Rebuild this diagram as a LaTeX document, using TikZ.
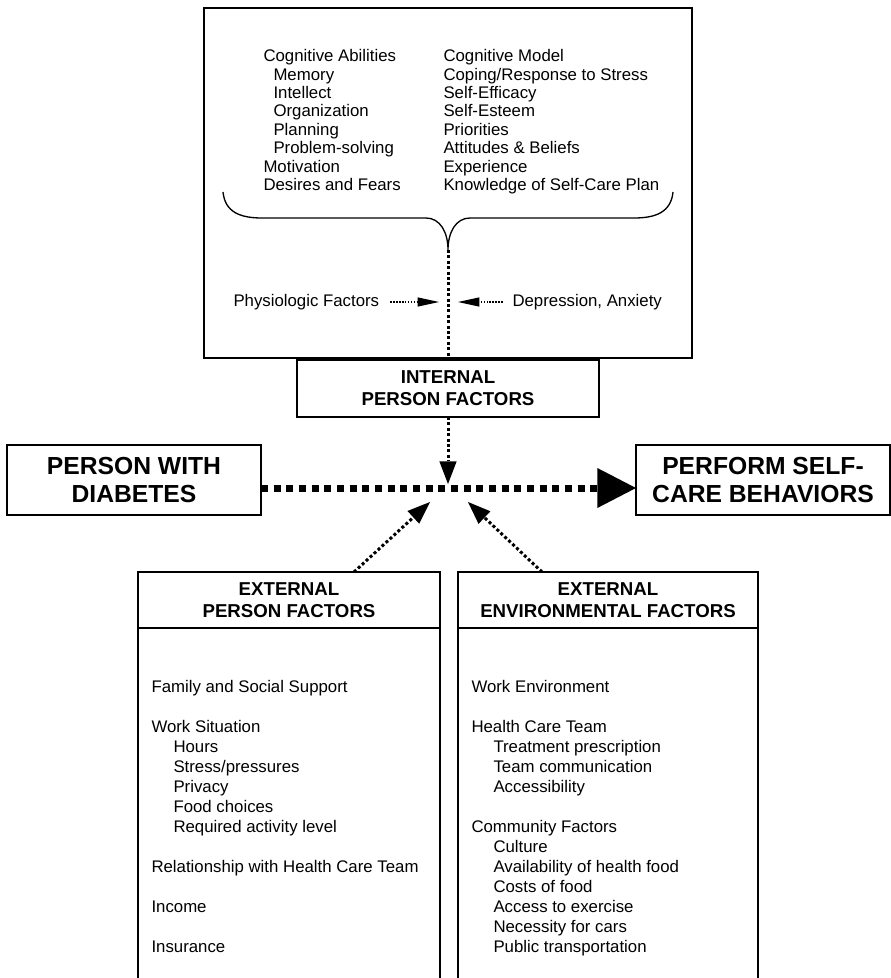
\documentclass[tikz,border=0pt]{standalone}
\usepackage{fontspec}
\setmainfont{Liberation Sans}
\usetikzlibrary{arrows.meta}

\tikzset{every picture/.style={line width=0.75pt}}

\begin{document}
\begin{tikzpicture}[x=0.75pt,y=0.75pt,yscale=-1,xscale=1,
    toplist/.style={anchor=north west, inner sep=0pt, align=left, font=\fontsize{12.6}{13.8}\selectfont},
    lowlist/.style={anchor=north west, inner sep=0pt, align=left, font=\fontsize{12.6}{15}\selectfont},
    sidelabel/.style={inner sep=0pt, font=\fontsize{12.6}{15}\selectfont},
    headbox/.style={draw, line width=1.9pt, outer sep=0pt, inner sep=0pt, align=center, font=\bfseries\fontsize{14}{16.5}\selectfont},
    bigbox/.style={draw, line width=1.9pt, outer sep=0pt, inner sep=0pt, align=center, font=\bfseries\fontsize{18.5}{21}\selectfont, minimum width=190.5pt, minimum height=52.5pt},
    dotline/.style={line width=2.25pt, dash pattern=on 2.25pt off 1.8pt},
    dotarrow/.style={dotline, -{Triangle[length=17pt,width=13pt,line width=0pt]}},
    thinarrow/.style={line width=1.1pt, dash pattern=on 1.1pt off 1.1pt, -{Triangle[length=16pt,width=7pt,line width=0pt]}},
    bigarrow/.style={line width=5.25pt, dash pattern=on 5.25pt off 4.25pt, -{Triangle[length=29pt,width=30pt,line width=0pt]}}]
    \useasboundingbox (0,0) rectangle (891,978); %set diagram size to 891 x 978

    %Shape: Rectangle [internal factors list]
    \draw [line width=1pt] (204,8) rectangle (692,358) ;
    % Text Node
    \node [toplist] (cogleft) at (263,49) {Cognitive Abilities\\\hspace{7.5pt}Memory\\\hspace{7.5pt}Intellect\\\hspace{7.5pt}Organization\\\hspace{7.5pt}Planning\\\hspace{7.5pt}Problem-solving\\Motivation\\Desires and Fears};
    % Text Node
    \node [toplist] (cogright) at (443,49) {Cognitive Model\\Coping/Response to Stress\\Self-Efficacy\\Self-Esteem\\Priorities\\Attitudes \& Beliefs\\Experience\\Knowledge of Self-Care Plan};
    %Curve Lines [brace]
    \draw [line width=1pt] (223,192) .. controls (225,212) and (240,218) .. (262,218) -- (426,218) .. controls (440,218) and (448,232) .. (448,250) .. controls (448,232) and (456,218) .. (470,218) -- (634,218) .. controls (656,218) and (671,212) .. (673,192) ;
    \coordinate (bracetip) at (448,250);

    % Text Node
    \node [sidelabel, anchor=west] (physio) at (233,302) {Physiologic Factors};
    % Text Node
    \node [sidelabel, anchor=west] (depress) at (512,302) {Depression, Anxiety};
    \coordinate (physioend) at (439,302);
    \coordinate (depressend) at (458,302);
    %Straight Lines [side arrows]
    \draw [thinarrow] ([xshift=8pt]physio.east) -- (physioend) ;
    \draw [thinarrow] ([xshift=-7pt]depress.west) -- (depressend) ;

    %Shape: Rectangle [internal]
    \node [headbox, minimum width=226.5pt, minimum height=42.75pt] (internal) at (448,388.5) {INTERNAL\\PERSON FACTORS};
    %Straight Lines
    \draw [dotline] (bracetip) -- (internal.north) ;

    %Shape: Rectangle [person]
    \node [bigbox] (person) at (134,480) {PERSON WITH\\DIABETES};
    %Shape: Rectangle [behaviors]
    \node [bigbox] (behave) at (763,480) {PERFORM SELF-\\CARE BEHAVIORS};
    \coordinate (hub) at (448,488);
    \coordinate (hubtop) at (448,484);
    \coordinate (tipleft) at (430,502);
    \coordinate (tipright) at (468,502);
    %Straight Lines [main arrow]
    \draw [bigarrow] (person.east |- hub) -- (behave.west |- hub) ;
    %Straight Lines
    \draw [dotarrow] (internal.south) -- (hubtop) ;

    %Shape: Rectangle [external person]
    \node [headbox, minimum width=226.5pt, minimum height=42pt] (extperson) at (289,600) {EXTERNAL\\PERSON FACTORS};
    %Shape: Rectangle [external environment]
    \node [headbox, minimum width=225pt, minimum height=42pt] (extenv) at (608,600) {EXTERNAL\\ENVIRONMENTAL FACTORS};
    %Straight Lines [open sides]
    \draw [line width=1.1pt] (extperson.south west) -- (extperson.south west |- 0,978) ;
    \draw [line width=1.1pt] (extperson.south east) -- (extperson.south east |- 0,978) ;
    \draw [line width=1.1pt] (extenv.south west) -- (extenv.south west |- 0,978) ;
    \draw [line width=1.1pt] (extenv.south east) -- (extenv.south east |- 0,978) ;
    %Straight Lines [diagonal arrows]
    \draw [dotarrow] ([xshift=48.75pt]extperson.north) -- (tipleft) ;
    \draw [dotarrow] ([xshift=-49.5pt]extenv.north) -- (tipright) ;

    % Text Node
    \node [lowlist] (personlist) at (151,680) {Family and Social Support\\[15pt]Work Situation\\\hspace{16.5pt}Hours\\\hspace{16.5pt}Stress/pressures\\\hspace{16.5pt}Privacy\\\hspace{16.5pt}Food choices\\\hspace{16.5pt}Required activity level\\[15pt]Relationship with Health Care Team\\[15pt]Income\\[15pt]Insurance};
    % Text Node
    \node [lowlist] (envlist) at (471,680) {Work Environment\\[15pt]Health Care Team\\\hspace{16.5pt}Treatment prescription\\\hspace{16.5pt}Team communication\\\hspace{16.5pt}Accessibility\\[15pt]Community Factors\\\hspace{16.5pt}Culture\\\hspace{16.5pt}Availability of health food\\\hspace{16.5pt}Costs of food\\\hspace{16.5pt}Access to exercise\\\hspace{16.5pt}Necessity for cars\\\hspace{16.5pt}Public transportation};

\end{tikzpicture}
\end{document}
